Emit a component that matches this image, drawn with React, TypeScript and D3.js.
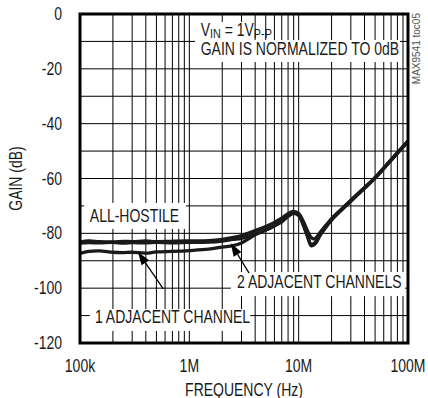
import React from "react";
import * as d3 from "d3";

// frequency points (Hz) shared by the three traces
const freqs = [
  100e3, 120e3, 150e3, 200e3, 250e3, 300e3, 400e3, 500e3, 700e3, 1e6, 1.5e6,
  2e6, 2.5e6, 3e6, 4e6, 5e6, 6e6, 7e6, 8e6, 9e6, 10e6, 11e6, 12e6, 13e6, 14e6,
  16e6, 20e6, 25e6, 30e6, 40e6, 50e6, 70e6, 100e6,
];

const allHostile = [
  -83.2, -82.8, -83.0, -83.1, -82.9, -83.0, -82.8, -83.0, -82.9, -82.8, -82.7,
  -82.2, -81.5, -80.8, -79.0, -77.5, -76.0, -74.5, -72.8, -72.0, -72.8, -75.5,
  -79.0, -81.5, -82.0, -79.3, -74.6, -70.9, -67.9, -63.3, -59.6, -53.1, -46.3,
];

const twoAdjacent = [
  -83.6, -83.4, -83.5, -83.3, -83.6, -83.4, -83.5, -83.3, -83.5, -83.3, -83.2,
  -82.8, -82.2, -81.8, -80.2, -78.8, -77.3, -75.8, -73.8, -72.7, -73.5, -77.0,
  -81.0, -84.5, -84.0, -80.3, -75.2, -71.3, -68.3, -63.6, -59.9, -53.4, -46.6,
];

const oneAdjacent = [
  -87.3, -86.6, -86.4, -86.9, -87.0, -86.9, -87.2, -86.8, -86.6, -86.3, -85.8,
  -85.0, -84.5, -83.5, -80.5, -78.8, -77.2, -75.5, -73.5, -72.5, -73.2, -76.5,
  -80.5, -84.0, -83.5, -80.0, -74.9, -71.1, -68.1, -63.5, -59.8, -53.3, -46.4,
];

const yTicks = [0, -20, -40, -60, -80, -100, -120];
const xTickValues = [1e5, 1e6, 1e7, 1e8];
const xTickLabels = ["100k", "1M", "10M", "100M"];

const W = 428;
const H = 398;
const margin = { left: 80, right: 20, top: 14, bottom: 55 };
const FONT = "'Liberation Sans', Arial, sans-serif";
const NARROW = 0.8; // squeeze to mimic condensed type
const FS = 17.5;

function NText({ x, y, anchor = "start", size = FS, children }: any) {
  return (
    <text
      transform={`translate(${x},${y}) scale(${NARROW},1)`}
      textAnchor={anchor}
      fontSize={size}
      fill="#1a1a1a"
    >
      {children}
    </text>
  );
}

export default function App() {
  const x = d3
    .scaleLog()
    .domain([1e5, 1e8])
    .range([margin.left, W - margin.right]);
  const y = d3
    .scaleLinear()
    .domain([-120, 0])
    .range([H - margin.bottom, margin.top]);

  // minor log gridlines
  const vGrid: number[] = [];
  for (let dec = 1e5; dec < 1e8; dec *= 10) {
    for (let k = 1; k <= 9; k++) vGrid.push(dec * k);
  }
  const hGrid = d3.range(-110, 0, 10);

  const line = d3
    .line<number>()
    .x((_, i) => x(freqs[i]))
    .y((v) => y(v))
    .curve(d3.curveCatmullRom.alpha(0.5));

  const series = [allHostile, twoAdjacent, oneAdjacent];

  const arrow = (f0: number, g0: number, f1: number, g1: number) => {
    const x0 = x(f0), y0 = y(g0), x1 = x(f1), y1 = y(g1);
    const a = Math.atan2(y1 - y0, x1 - x0);
    const len = 13, wd = 4.5;
    const bx = x1 - len * Math.cos(a), by = y1 - len * Math.sin(a);
    const px = -Math.sin(a) * wd, py = Math.cos(a) * wd;
    return (
      <g>
        <line x1={x0} y1={y0} x2={bx} y2={by} stroke="#000" strokeWidth={1.3} />
        <polygon
          points={`${x1},${y1} ${bx + px},${by + py} ${bx - px},${by - py}`}
          fill="#000"
        />
      </g>
    );
  };

  // white patch behind a label, given in data space
  const patch = (f0: number, f1: number, g0: number, g1: number) => (
    <rect x={x(f0)} y={y(g0)} width={x(f1) - x(f0)} height={y(g1) - y(g0)} />
  );

  const left = margin.left;
  const right = W - margin.right;
  const top = margin.top;
  const bottom = H - margin.bottom;

  return (
    <div style={{ position: "fixed", left: 0, top: 0 }}>
      <svg width={W} height={H} style={{ display: "block", background: "#fff" }} fontFamily={FONT}>
        {/* grid */}
        <g stroke="#000" strokeWidth={1}>
          {vGrid.map((f) => (
            <line key={"v" + f} x1={x(f)} x2={x(f)} y1={top} y2={bottom} />
          ))}
          {hGrid.map((g) => (
            <line key={"h" + g} x1={left} x2={right} y1={y(g)} y2={y(g)} />
          ))}
        </g>

        {/* curves */}
        <g fill="none" stroke="#1a1a1a" strokeWidth={3.3} strokeLinejoin="round">
          {series.map((s, i) => (
            <path key={i} d={line(s) || ""} />
          ))}
        </g>

        {/* annotation boxes */}
        <g fill="#fff">
          {patch(1.09e5, 9.3e5, -68.9, -78.4)}
          {patch(1.23e5, 3.6e6, -107.6, -115.6)}
          {patch(2.4e6, 9.4e7, -94.1, -102.9)}
          {patch(1.13e6, 3.4e6, -2.9, -9.6)}
          {patch(1.13e6, 8.45e7, -9.5, -17.5)}
        </g>

        {/* frame */}
        <rect x={left} y={top} width={right - left} height={bottom - top} fill="none" stroke="#000" strokeWidth={3} />

        {/* labels */}
        <NText x={x(1.23e5)} y={y(-75.9)}>ALL-HOSTILE</NText>
        <NText x={x(1.37e5)} y={y(-112.7)}>1 ADJACENT CHANNEL</NText>
        <NText x={x(2.73e6)} y={y(-100)}>2 ADJACENT CHANNELS</NText>
        <NText x={x(1.27e6)} y={y(-8.2)}>
          V<tspan fontSize={13.5} dy={1.5}>IN</tspan>
          <tspan dy={-1.5}> = 1V</tspan>
          <tspan fontSize={13.5} dy={1.5}>P-P</tspan>
        </NText>
        <NText x={x(1.27e6)} y={y(-15.1)}>GAIN IS NORMALIZED TO 0dB</NText>

        {arrow(5.78e5, -100.3, 3.39e5, -86.8)}
        {arrow(3.52e6, -94.5, 2.39e6, -83.6)}

        {/* y ticks */}
        {yTicks.map((t) => (
          <NText key={t} x={left - 18} y={y(t) + 6} anchor="end">
            {t}
          </NText>
        ))}
        {/* x ticks */}
        {xTickValues.map((t, i) => (
          <NText key={t} x={x(t)} y={bottom + 29} anchor="middle">
            {xTickLabels[i]}
          </NText>
        ))}

        <NText x={(left + right) / 2} y={396} anchor="middle">
          FREQUENCY (Hz)
        </NText>
        <text
          transform={`translate(${22},${(top + bottom) / 2}) rotate(-90) scale(${NARROW},1)`}
          textAnchor="middle"
          fontSize={FS}
          fill="#1a1a1a"
        >
          GAIN (dB)
        </text>
        <text
          transform={`translate(${419.5},${13}) rotate(-90)`}
          textAnchor="end"
          fontSize={10}
          fill="#555"
        >
          MAX9541 toc05
        </text>
      </svg>
    </div>
  );
}
